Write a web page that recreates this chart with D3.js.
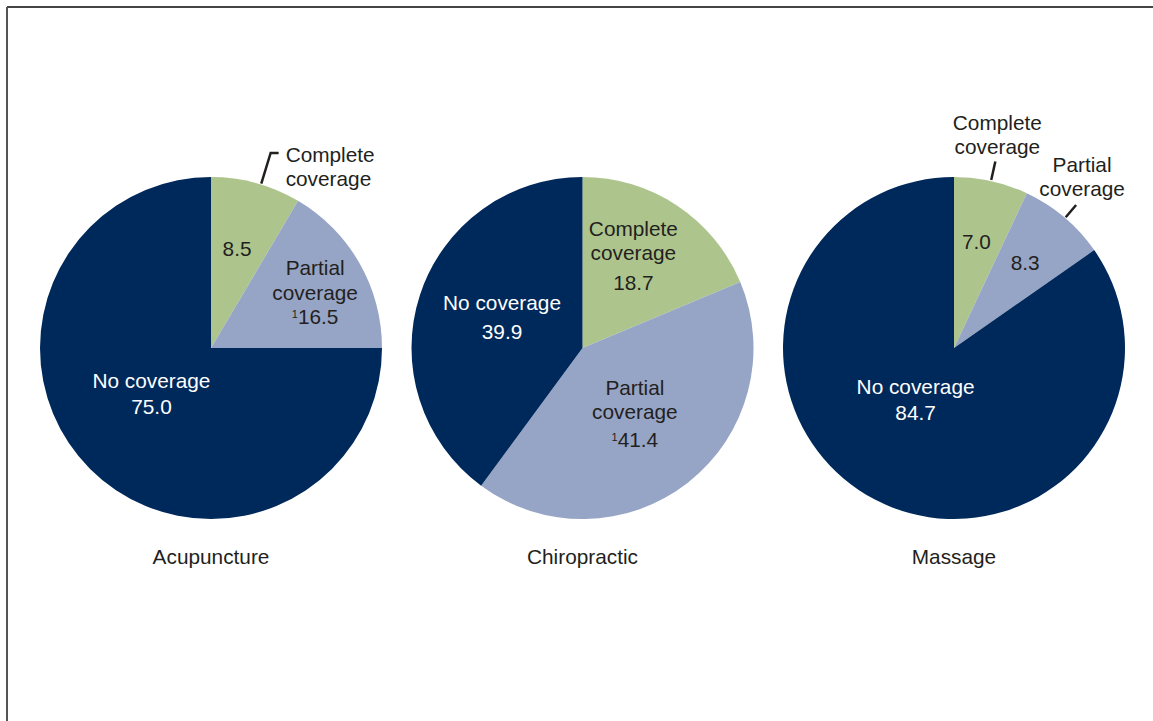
<!DOCTYPE html>
<html>
<head>
<meta charset="utf-8">
<script src="https://cdnjs.cloudflare.com/ajax/libs/d3/7.8.5/d3.min.js"></script>
<style>
  html, body { margin: 0; padding: 0; background: #fff; }
  svg { display: block; font-family: 'Liberation Sans', Arial, sans-serif; }
</style>
</head>
<body>
<div id="chart"></div>
<script>
// chart values
const services = ['Acupuncture', 'Chiropractic', 'Massage']
const coverageTypes = ['Complete coverage', 'Partial coverage', 'No coverage']
const completeValues = [8.5, 18.7, 7.0]
const partialValues = [16.5, 41.4, 8.3]
const noneValues = [75.0, 39.9, 84.7]
const partialNotes = ['1', '1', '']

const width = 1153, height = 721
const radius = 171
const colors = ['#adc58d', '#96a5c5', '#00295b']
const textDark = '#231f20'
const fontSize = 20.8

// where each label goes: 'in' = name + value inside, 'out' = value inside, name outside
const labelMode = [
  ['out', 'in', 'in'],
  ['in', 'in', 'in'],
  ['out', 'out', 'in']
]
// nudges from the arc centroid
const nudges = [
  [[-1, -1], [15, -5], [13, -27]],
  [[-6, -10], [-11, -17], [17, 1]],
  [[0, -6], [5, -7], [9, -39]]
]
const valueGap = [26, 29.5, 26]
// outside leader: [angle deg on the rim, leader length, text dx, text dy, anchor, hook]
const leaders = [
  [[17, 33, 15, 2, 'start', 8], null, null],
  [null, null, null],
  [[12.5, 20, 2, -39, 'middle', 0], [40.5, 17, 6, -41, 'middle', 0], null]
]

const svg = d3.select('#chart').append('svg')
  .attr('width', width).attr('height', height)

// frame
svg.append('line').attr('x1', 7).attr('y1', 7).attr('x2', width).attr('y2', 7)
  .attr('stroke', '#444').attr('stroke-width', 2)
svg.append('line').attr('x1', 7).attr('y1', 7).attr('x2', 7).attr('y2', height)
  .attr('stroke', '#555').attr('stroke-width', 2)

const cx = d3.scalePoint().domain(services).range([211, 954])
const cy = 348

const pie = d3.pie().sort(null).value(d => d.value)
const arc = d3.arc().innerRadius(0).outerRadius(radius)
const labelArc = d3.arc().innerRadius(radius * 0.6).outerRadius(radius * 0.6)

services.forEach((service, i) => {
  const data = [
    { name: coverageTypes[0], value: completeValues[i], note: '' },
    { name: coverageTypes[1], value: partialValues[i], note: partialNotes[i] },
    { name: coverageTypes[2], value: noneValues[i], note: '' }
  ]
  const arcs = pie(data)
  const g = svg.append('g').attr('transform', `translate(${cx(service)},${cy})`)

  g.selectAll('path')
    .data(arcs)
    .enter()
    .append('path')
    .attr('d', arc)
    .attr('fill', (d, j) => colors[j])

  arcs.forEach((d, j) => {
    const c = labelArc.centroid(d)
    const x = c[0] + nudges[i][j][0]
    const y = c[1] + nudges[i][j][1]
    const fill = j === 2 ? '#fff' : textDark
    const words = d.data.name.split(' ')
    const valText = d3.format('.1f')(d.data.value)

    let lines = []
    if (labelMode[i][j] === 'in') {
      lines = [{ t: words[0], y: -24.5 }, { t: words[1], y: 0 }, { t: valText, note: d.data.note, y: valueGap[i] }]
      if (j === 2) lines = [{ t: words[0] + ' ' + words[1], y: -valueGap[i] / 2 }, { t: valText, y: valueGap[i] / 2 }]
    } else {
      lines = [{ t: valText, note: d.data.note, y: 0 }]
    }

    lines.forEach(l => {
      const txt = g.append('text')
        .attr('x', x).attr('y', y + l.y).attr('dy', '0.36em')
        .attr('text-anchor', 'middle')
        .attr('font-size', fontSize)
        .attr('fill', fill)
      if (l.note) {
        txt.append('tspan').attr('font-size', 11).attr('dy', '-0.05em').text(l.note)
        txt.append('tspan').attr('dy', '0.29em').text(l.t)
      } else {
        txt.text(l.t)
      }
    })

    const ld = leaders[i][j]
    if (labelMode[i][j] === 'out' && ld) {
      const a = ld[0] * Math.PI / 180
      const p0 = d3.pointRadial(a, radius + 1)
      const p1 = d3.pointRadial(a, radius + ld[1])
      const pts = [p0, p1]
      if (ld[5]) pts.push([p1[0] + ld[5], p1[1]])
      g.append('path')
        .attr('d', d3.line()(pts))
        .attr('fill', 'none')
        .attr('stroke', textDark)
        .attr('stroke-width', 2.5)
      const tx = p1[0] + ld[2]
      const ty = p1[1] + ld[3]
      words.forEach((w, k) => {
        g.append('text')
          .attr('x', tx).attr('y', ty + k * 24).attr('dy', '0.36em')
          .attr('text-anchor', ld[4])
          .attr('font-size', fontSize)
          .attr('fill', textDark)
          .text(w)
      })
    }
  })

  svg.append('text')
    .attr('x', cx(service)).attr('y', 557).attr('dy', '0.36em')
    .attr('text-anchor', 'middle')
    .attr('font-size', fontSize)
    .attr('fill', textDark)
    .text(service)
})
</script>
</body>
</html>
